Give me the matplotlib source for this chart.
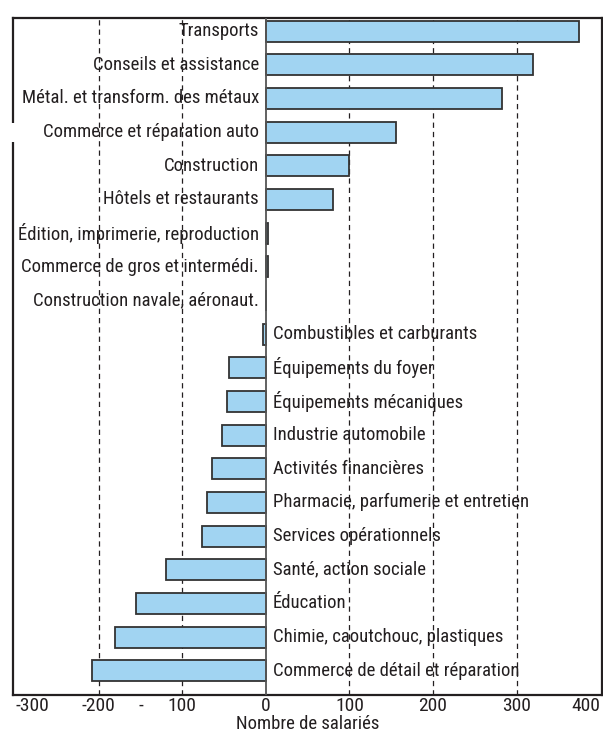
import matplotlib
matplotlib.use("Agg")
import matplotlib.pyplot as plt
from matplotlib.patches import Rectangle
from matplotlib import font_manager

categories = [
    "Transports", "Conseils et assistance", "Métal. et transform. des métaux",
    "Commerce et réparation auto", "Construction", "Hôtels et restaurants",
    "Édition, imprimerie, reproduction", "Commerce de gros et intermédi.",
    "Construction navale, aéronaut.", "Combustibles et carburants",
    "Équipements du foyer", "Équipements mécaniques", "Industrie automobile",
    "Activités financières", "Pharmacie, parfumerie et entretien",
    "Services opérationnels", "Santé, action sociale", "Éducation",
    "Chimie, caoutchouc, plastiques", "Commerce de détail et réparation",
]
values = [375, 320, 283, 156, 100, 80, 2, 2, 0, -4, -44, -46, -52, -65, -71,
          -77, -120, -155, -180, -208]
tick_values = [-300, -200, -150, -100, 0, 100, 200, 300, 400]
tick_labels = ["-300", "-200", "-", "100", "0", "100", "200", "300", "400"]
grid_values = [-200, -100, 100, 200, 300]
xlabel = "Nombre de salariés"

installed = {f.name for f in font_manager.fontManager.ttflist}
fam = [f for f in ["Liberation Sans Narrow", "Roboto Condensed", "Liberation Sans"] if f in installed]
plt.rcParams['font.family'] = fam + ["DejaVu Sans"]
plt.rcParams['lines.scale_dashes'] = False

TXT = "#231f20"
fig = plt.figure(figsize=(6.03, 7.37), dpi=100)
ax = fig.add_axes([0.021, 0.057, 0.977, 0.9186])

ypos = list(range(len(categories)))
for g in grid_values:
    ax.axvline(g, color=TXT, lw=0.9, linestyle=(0, (3.8, 2.9)), zorder=1)

ax.barh(ypos, values, height=0.62, color="#a1d4f2", edgecolor="#333333",
        linewidth=1.3, zorder=2)
ax.axvline(0, color="#555555", lw=1.3, zorder=3)

for y, c, v in zip(ypos, categories, values):
    if v >= 0:
        ax.annotate(c, (0, y), xytext=(-5, 0), textcoords="offset points",
                    ha="right", va="center", fontsize=13.5, color=TXT, zorder=4)
    else:
        ax.annotate(c, (0, y), xytext=(5, 0), textcoords="offset points",
                    ha="left", va="center", fontsize=13.5, color=TXT, zorder=4)

ax.set_xlim(-303, 402)
ax.set_ylim(19.72, -0.39)
ax.set_yticks([])
ax.set_xticks(tick_values)
ax.set_xticklabels(tick_labels, fontsize=14, color=TXT)
ax.tick_params(axis="x", length=0, pad=1.5)
lbls = ax.get_xticklabels()
lbls[0].set_ha("left")
lbls[-1].set_ha("right")
ax.set_xlabel(xlabel, fontsize=13.5, color=TXT, labelpad=0)
for s in ax.spines.values():
    s.set_color(TXT)
    s.set_linewidth(1.6)

# small break in the left frame
fig.add_artist(Rectangle((0.0, 1 - 142 / 737), 0.03, 19 / 737,
                         transform=fig.transFigure, facecolor="white",
                         edgecolor="none", zorder=10))

fig.savefig("out.png", dpi=100)
